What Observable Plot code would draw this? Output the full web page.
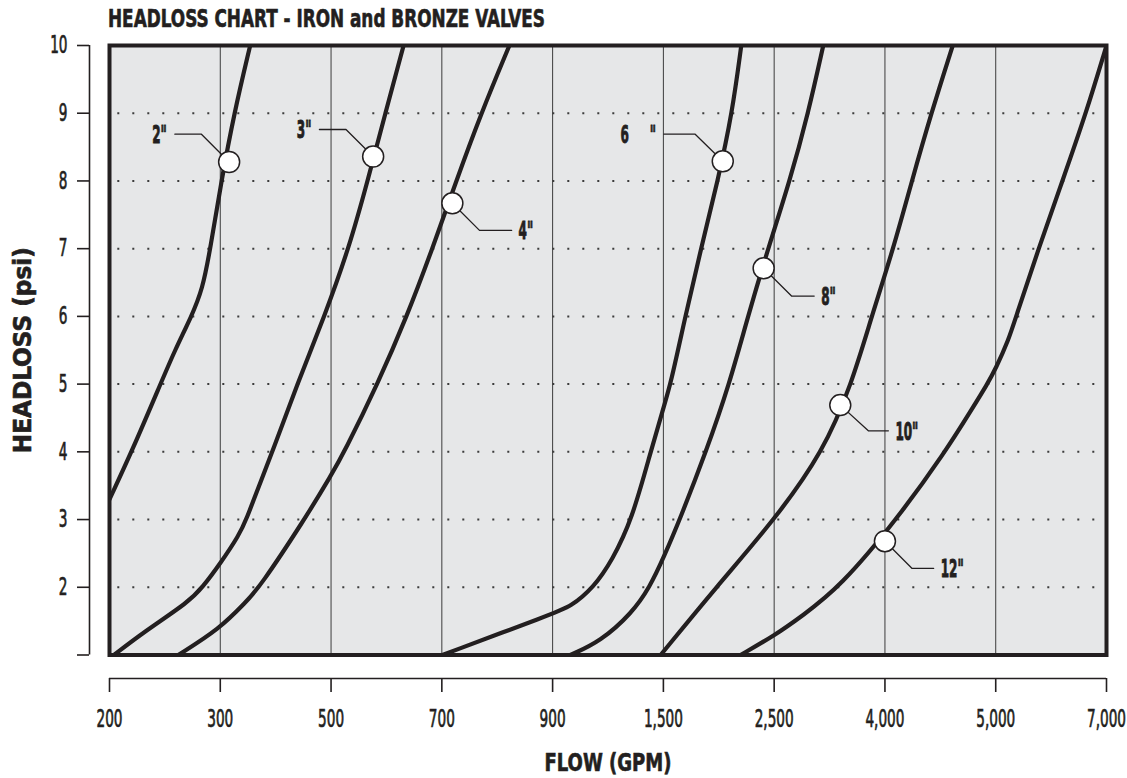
<!DOCTYPE html>
<html>
<head>
<meta charset="utf-8">
<script src="https://cdn.jsdelivr.net/npm/d3@7"></script>
<script src="https://cdn.jsdelivr.net/npm/@observablehq/plot@0.6"></script>
<style>
  body { margin: 0; background: #ffffff; }
  #wrap { position: relative; width: 1127px; height: 778px; overflow: hidden; }
  #title { position: absolute; left: 108px; top: 7px; font-weight: bold; font-size: 24px;
           line-height: 24px; white-space: nowrap; color: #231f20; transform-origin: 0 0;
           -webkit-text-stroke: 0.6px #231f20; }
  #wrap svg { position: absolute; left: 0; top: 0; }
</style>
</head>
<body>
<div id="wrap"><div id="title">HEADLOSS CHART - IRON and BRONZE VALVES</div></div>
<script>
// ---------- data ----------
const chartTitle = "HEADLOSS CHART - IRON and BRONZE VALVES";
const xTitle = "FLOW (GPM)";
const yTitle = "HEADLOSS (psi)";

// x axis: equally spaced flow ticks (GPM)
const flowTicks = [200, 300, 500, 700, 900, 1500, 2500, 4000, 5000, 7000];
// y axis: headloss ticks (psi)
const headTicks = [1, 2, 3, 4, 5, 6, 7, 8, 9, 10];

const sizes = ['2"', '3"', '4"', '6"', '8"', '10"', '12"'];
const sizeLabels = ['2"', '3"', '4"', '6\u00a0\u00a0\u00a0\u00a0\u00a0"', '8"', '10"', '12"'];

// curve points: flow (GPM) and headloss (psi)
const flow2 = [200, 220, 246, 259, 274, 284, 291, 302, 325, 354];
const head2 = [3.3, 4.0, 5.0, 5.5, 6.0, 6.4, 7.0, 8.0, 9.0, 10.0];

const flow3 = [204, 231, 272, 284, 300, 334, 347, 371, 394, 439, 488, 532, 566, 598, 631];
const head3 = [1.0, 1.34, 1.79, 2.0, 2.35, 2.77, 3.0, 3.52, 4.0, 5.0, 6.0, 7.0, 8.0, 9.0, 10.0];

const flow4 = [262, 299, 347, 371, 452, 500, 524, 584, 637, 683, 726, 771, 822];
const head4 = [1.0, 1.38, 1.79, 2.0, 3.0, 3.65, 4.0, 5.0, 6.0, 7.0, 8.0, 9.0, 10.0];

const flow6 = [701, 900, 996, 1123, 1223, 1330, 1431, 1497, 1566, 1698, 1839, 1991, 2121, 2203];
const head6 = [1.0, 1.61, 1.71, 2.0, 2.4, 3.0, 4.0, 4.62, 5.0, 6.0, 7.0, 8.0, 9.0, 10.0];

const flow8 = [996, 1159, 1330, 1426, 1505, 1648, 1885, 2096, 2263, 2445, 2712, 2961, 3165];
const head8 = [1.0, 1.2, 1.62, 2.0, 2.45, 3.0, 4.0, 5.0, 6.0, 7.0, 8.0, 9.0, 10.0];

const flow10 = [1485, 1975, 2508, 3164, 3548, 3820, 4076, 4243, 4418, 4612];
const head10 = [1.0, 2.0, 3.0, 4.0, 5.0, 6.0, 7.0, 8.0, 9.0, 10.0];

const flow12 = [2196, 2508, 2870, 3390, 4106, 4545, 4788, 4924, 5000, 5227, 5368, 5773, 6204, 6631, 7000];
const head12 = [1.0, 1.29, 1.57, 2.0, 3.0, 4.0, 4.64, 5.0, 5.23, 5.64, 6.0, 7.0, 8.0, 9.0, 10.0];

// label markers (circles) and leader lines
const markerFlow = [316, 576, 719, 2036, 2405, 3395, 4000];
const markerHead = [8.28, 8.36, 7.67, 8.29, 6.71, 4.69, 2.68];
const elbowFlow  = [283, 527, 768, 1787, 2735, 3775, 4243];
const elbowHead  = [8.69, 8.76, 7.27, 8.69, 6.30, 4.31, 2.28];
const labelFlow  = [259, 479, 826, 1505, 3042, 4031, 4440];
const labelHead  = [8.69, 8.76, 7.27, 8.69, 6.30, 4.31, 2.28];
const labelSide  = ["left", "left", "right", "left", "right", "right", "right"];

// ---------- build tables ----------
const flowSeries = [flow2, flow3, flow4, flow6, flow8, flow10, flow12];
const headSeries = [head2, head3, head4, head6, head8, head10, head12];

// flow axis is equally spaced between its labelled ticks: piecewise mapping to tick index
const toIdx = d3.scaleLinear().domain(flowTicks).range(d3.range(flowTicks.length));

const curveRows = sizes.flatMap((s, k) =>
  flowSeries[k].map((f, i) => ({size: s, x: toIdx(f), y: headSeries[k][i]})));

const leaderRows = sizes.flatMap((s, k) => [
  {size: s, x: toIdx(labelFlow[k]), y: labelHead[k]},
  {size: s, x: toIdx(elbowFlow[k]), y: elbowHead[k]},
  {size: s, x: toIdx(markerFlow[k]), y: markerHead[k]}
]);
const markerRows = sizes.map((s, k) => ({size: s, x: toIdx(markerFlow[k]), y: markerHead[k]}));
const labelRows = sizes.map((s, k) => ({size: s, text: sizeLabels[k], x: toIdx(labelFlow[k]), y: labelHead[k], side: labelSide[k]}));

// ---------- styling ----------
const FONT = '"Liberation Sans Narrow", "Arial Narrow", "DejaVu Sans Condensed", "Liberation Sans", sans-serif';
const INK = "#231f20";
document.getElementById("title").style.fontFamily = FONT;

const ctx = document.createElement("canvas").getContext("2d");
function textWidth(str, weight, size) {
  ctx.font = `${weight} ${size}px ${FONT}`;
  return ctx.measureText(str).width;
}

const chart = Plot.plot({
  width: 1127,
  height: 778,
  marginLeft: 109,
  marginRight: 21,
  marginTop: 45,
  marginBottom: 123.5,
  style: {fontFamily: FONT, fontSize: "24px", color: INK, background: "transparent"},
  x: {type: "linear", domain: [0, flowTicks.length - 1], label: null},
  y: {type: "linear", domain: [headTicks[0], headTicks[headTicks.length - 1]], label: null},
  marks: [
    Plot.frame({fill: "#e6e7e8", stroke: null}),
    Plot.ruleX(d3.range(1, flowTicks.length - 1), {stroke: "#3c3c3c", strokeWidth: 1}),
    Plot.ruleY(headTicks.slice(1, -1), {x1: 0, x2: flowTicks.length - 1, stroke: "#3c3c3c",
      strokeWidth: 2, strokeDasharray: "2,13", strokeDashoffset: -8.3}),
    Plot.line(curveRows, {x: "x", y: "y", z: "size", curve: "basis", stroke: INK,
      strokeWidth: 4.2, clip: true}),
    Plot.line(leaderRows, {x: "x", y: "y", z: "size", stroke: INK, strokeWidth: 1.3}),
    Plot.dot(markerRows, {x: "x", y: "y", r: 10.5, fill: "white", stroke: INK, strokeWidth: 1.5}),
    Plot.text(labelRows.filter(d => d.side === "left"), {x: "x", y: "y", text: "text",
      textAnchor: "end", dx: -8, dy: 1, fontWeight: "bold", fontSize: 25, fill: INK}),
    Plot.text(labelRows.filter(d => d.side === "right"), {x: "x", y: "y", text: "text",
      textAnchor: "start", dx: 7, dy: 1, fontWeight: "bold", fontSize: 25, fill: INK}),
    Plot.frame({stroke: INK, strokeWidth: 4}),
    // y axis, offset to the left of the frame
    Plot.ruleX([0], {y1: headTicks[0], y2: headTicks[headTicks.length - 1], dx: -20, stroke: INK, strokeWidth: 1.6}),
    Plot.axisY(headTicks, {anchor: "left", dx: -20, tickSize: 12, tickPadding: 10, strokeWidth: 1.6,
      tickFormat: d => d === headTicks[0] ? "" : String(d), fontSize: 24, label: null}),
    // x axis, offset below the frame
    Plot.ruleY([headTicks[0]], {x1: 0, x2: flowTicks.length - 1, dy: 23.5, stroke: INK, strokeWidth: 1.6}),
    Plot.axisX(d3.range(flowTicks.length), {anchor: "bottom", dy: 23.5, tickSize: 14, tickPadding: 17,
      strokeWidth: 1.6, tickFormat: i => d3.format(",")(flowTicks[i]), fontSize: 24, label: null}),
    // axis titles
    Plot.text([yTitle], {frameAnchor: "left", dx: -86.5, rotate: -90, textAnchor: "middle", lineAnchor: "middle",
      fontWeight: "bold", fontSize: 24, fill: INK}),
    Plot.text([xTitle], {frameAnchor: "bottom", dy: 108, textAnchor: "middle", lineAnchor: "middle",
      fontWeight: "bold", fontSize: 24, fill: INK})
  ]
});

document.getElementById("wrap").appendChild(chart);

// condense text along its own direction to the reference's narrow face (textLength keeps anchors)
const sTick = 26 / textWidth("200", "normal", 24);
const sLab = 23 / textWidth('10"', "bold", 25);
const sY = 206 / textWidth(yTitle, "bold", 24);
const sX = 127 / textWidth(xTitle, "bold", 24);
const tickStrings = new Set([...flowTicks.map(d => d3.format(",")(d)), ...headTicks.map(String)]);
const labelStrings = new Set(sizeLabels);
chart.querySelectorAll("text").forEach(t => {
  const str = t.textContent;
  let s = null, thick = 0;
  if (str === yTitle) { s = sY; thick = 0.6; }
  else if (str === xTitle) { s = sX; thick = 0.6; }
  else if (labelStrings.has(str)) { s = sLab; thick = 0.9; }
  else if (tickStrings.has(str)) { s = sTick; thick = 0.7; }
  if (s === null) return;
  const w = t.getComputedTextLength();
  if (!(w > 0)) return;
  t.setAttribute("textLength", (w * s).toFixed(2));
  t.setAttribute("lengthAdjust", "spacingAndGlyphs");
  t.style.stroke = INK;
  t.style.strokeWidth = thick;
});
const titleEl = document.getElementById("title");
titleEl.style.transform = `scaleX(${437 / textWidth(chartTitle, "bold", 24)})`;
</script>
</body>
</html>
